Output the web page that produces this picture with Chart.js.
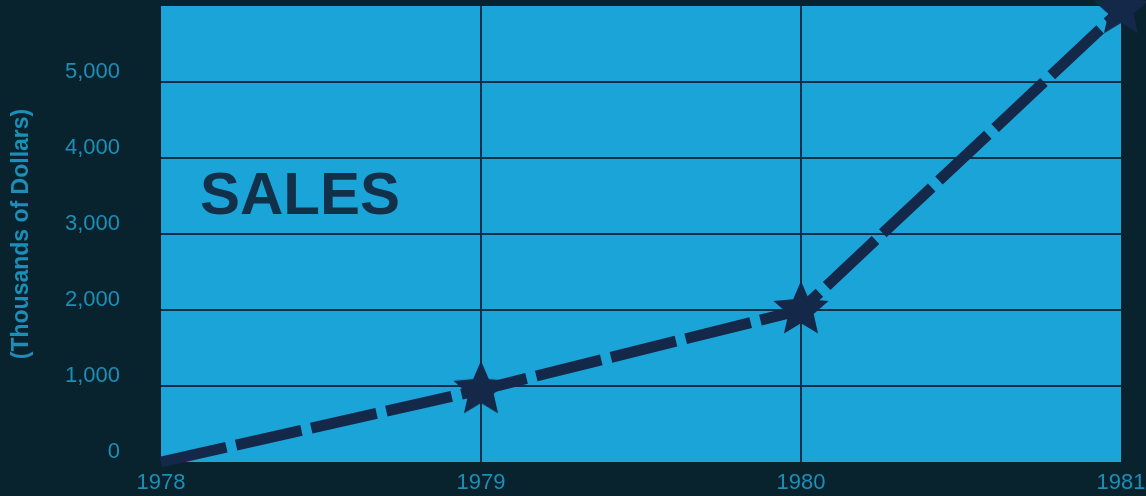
<!DOCTYPE html>
<html>
<head>
<meta charset="utf-8">
<script src="https://cdn.jsdelivr.net/npm/chart.js@4/dist/chart.umd.min.js"></script>
<style>
html, body { margin: 0; padding: 0; background: #08222c; }
canvas { display: block; }
</style>
</head>
<body>
<canvas id="salesChart" width="1146" height="496"></canvas>
<script>
// values
var years = ["1978", "1979", "1980", "1981"];
var sales = [0, 950, 2000, 5950];
var yTicks = [0, 1000, 2000, 3000, 4000, 5000, 6000];

var bgColor = '#08232d';
var plotColor = '#1aa4d8';
var gridColor = '#0e2f48';
var lineColor = '#14284a';
var textColor = '#1b8fb8';
var clear = 'rgba(0,0,0,0)';

Chart.defaults.font.family = '"Liberation Sans", Arial, sans-serif';

// filled five point star used as the point marker
function makeStar(r, color) {
    var c = document.createElement('canvas');
    c.width = c.height = r * 2 + 2;
    var g = c.getContext('2d');
    g.fillStyle = color;
    g.beginPath();
    for (var i = 0; i < 10; i++) {
        var rad = i % 2 ? r * 0.46 : r;
        var a = -Math.PI / 2 + i * Math.PI / 5;
        g.lineTo(r + 1 + rad * Math.cos(a), r + 1 + rad * Math.sin(a));
    }
    g.closePath();
    g.fill();
    return c;
}
var star = makeStar(29, lineColor);

var plotBg = {
    id: 'plotBg',
    beforeDraw: function(chart) {
        var ctx = chart.ctx, a = chart.chartArea;
        ctx.save();
        ctx.fillStyle = bgColor;
        ctx.fillRect(0, 0, chart.width, chart.height);
        ctx.fillStyle = plotColor;
        ctx.fillRect(a.left, a.top, a.right - a.left, a.bottom - a.top);
        ctx.restore();
    },
    beforeDatasetsDraw: function(chart) {
        var ctx = chart.ctx, a = chart.chartArea;
        ctx.save();
        ctx.fillStyle = '#12304a';
        ctx.font = 'bold 60px "Liberation Sans", Arial, sans-serif';
        ctx.textBaseline = 'alphabetic';
        ctx.fillText('SALES', a.left + 39, a.top + 208);
        ctx.restore();
    }
};

new Chart(document.getElementById('salesChart'), {
    type: 'line',
    data: {
        labels: years,
        datasets: [{
            label: 'Sales',
            data: sales,
            borderColor: lineColor,
            borderWidth: 11,
            borderDash: [67, 10],
            borderCapStyle: 'butt',
            tension: 0,
            fill: false,
            clip: false,
            pointStyle: star,
            pointRadius: [0, 29, 29, 29],
            pointHoverRadius: [0, 29, 29, 29]
        }]
    },
    options: {
        responsive: false,
        animation: false,
        layout: { autoPadding: false, padding: { top: 6, right: 25, bottom: 0, left: 0 } },
        plugins: {
            legend: { display: false },
            tooltip: { enabled: false }
        },
        scales: {
            x: {
                type: 'category',
                offset: false,
                border: { display: false },
                grid: {
                    color: function(c) { return (c.index === 1 || c.index === 2) ? gridColor : clear; },
                    lineWidth: 2,
                    drawTicks: false
                },
                ticks: {
                    color: textColor,
                    font: { size: 22 },
                    padding: 8,
                    maxRotation: 0,
                    autoSkip: false
                },
                afterFit: function(s) {
                    s.height = 34;
                    s.paddingLeft = 0;
                    s.paddingRight = 0;
                }
            },
            y: {
                min: 0,
                max: 6000,
                afterBuildTicks: function(s) {
                    s.ticks = yTicks.map(function(v) { return { value: v }; });
                },
                border: { display: false },
                grid: {
                    color: function(c) {
                        var v = c.tick ? c.tick.value : 0;
                        return (v === 0 || v === 6000) ? clear : gridColor;
                    },
                    lineWidth: 2,
                    drawTicks: false
                },
                ticks: {
                    color: textColor,
                    font: { size: 22 },
                    padding: 41,
                    labelOffset: -10,
                    callback: function(v) { return v === 6000 ? '' : v.toLocaleString('en-US'); }
                },
                title: {
                    display: true,
                    text: '(Thousands of Dollars)',
                    color: textColor,
                    font: { size: 23, weight: 'bold' },
                    padding: { top: 8, bottom: 0 }
                },
                afterFit: function(s) {
                    s.width = 161;
                    s.paddingTop = 0;
                    s.paddingBottom = 0;
                }
            }
        }
    },
    plugins: [plotBg]
});
</script>
</body>
</html>
